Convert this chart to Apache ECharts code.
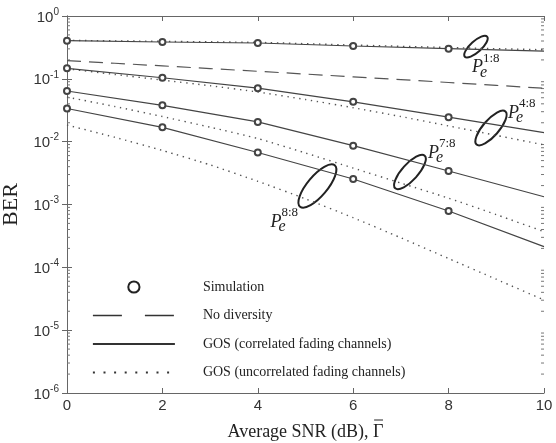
<!DOCTYPE html>
<html>
<head>
<meta charset="utf-8">
<script src="https://cdn.jsdelivr.net/npm/echarts@6.0.0/dist/echarts.min.js"></script>
<style>
  html, body { margin: 0; padding: 0; background: #fff; }
  #chart { width: 556px; height: 443px; }
</style>
</head>
<body>
<div id="chart"></div>
<script>
// average SNR (dB) sample points
var snrSim = [0, 2, 4, 6, 8];
var snrCurve = [0, 2, 4, 6, 8, 10];
var snrFine = [0, 1, 2, 3, 4, 5, 6, 7, 8, 9, 10];

// GOS, correlated fading channels (solid), at snrCurve
var gos18 = [0.405, 0.386, 0.372, 0.333, 0.302, 0.277];
var gos48 = [0.147, 0.104, 0.071, 0.043, 0.0245, 0.0139];
var gos78 = [0.064, 0.0379, 0.0206, 0.00863, 0.00341, 0.00133];
var gos88 = [0.0337, 0.0169, 0.00672, 0.00255, 0.000788, 0.000214];

// simulation circles, at snrSim
var sim18 = [0.405, 0.386, 0.372, 0.333, 0.302];
var sim48 = [0.147, 0.104, 0.071, 0.043, 0.0245];
var sim78 = [0.064, 0.0379, 0.0206, 0.00863, 0.00341];
var sim88 = [0.0337, 0.0169, 0.00672, 0.00255, 0.000788];

// GOS, uncorrelated fading channels (dotted)
var unc18 = [0.41, 0.395, 0.38, 0.345, 0.315, 0.29]; // snrCurve
var unc48 = [0.1445, 0.1175, 0.0955, 0.0776, 0.0617, 0.0468, 0.0347, 0.0251, 0.0178, 0.0126, 0.0089];
var unc78 = [0.0513, 0.0363, 0.0251, 0.0170, 0.0112, 0.0066, 0.0038, 0.00219, 0.00126, 0.00069, 0.00037];
var unc88 = [0.0184, 0.01175, 0.00724, 0.00427, 0.00234, 0.00123, 0.000617, 0.000295, 0.000138, 0.0000646, 0.0000302];

// no diversity (dashed), at snrFine
var noDiv = [0.1945, 0.177, 0.1607, 0.1455, 0.1318, 0.1191, 0.1076, 0.0973, 0.0875, 0.0787, 0.0708];

var xTicks = [0, 2, 4, 6, 8, 10];

// log minor ticks 2..9 in each decade
var minorTicks = [];
for (var d = -6; d < 0; d++) {
  for (var m = 2; m <= 9; m++) minorTicks.push(m * Math.pow(10, d));
}

var SOLID = 'GOS (correlated fading channels)';
var DOTTED = 'GOS (uncorrelated fading channels)';
var DASHED = 'No diversity';
var SIM = 'Simulation';
var XTITLE = 'Average SNR (dB), ';
var GAMMA = '\u0393';

function zip(xs, ys) {
  return ys.map(function (y, i) { return [xs[i], y]; });
}

var chart = echarts.init(document.getElementById('chart'));

var serif = '"Liberation Serif", "DejaVu Serif", serif';
var sans = '"Liberation Sans", Arial, sans-serif';

function solid(ys) {
  return {
    name: SOLID, type: 'line', data: zip(snrCurve, ys),
    symbol: 'none', silent: true, z: 3,
    itemStyle: { color: '#444' },
    lineStyle: { color: '#444', width: 1.2 }
  };
}
function dotted(xs, ys) {
  return {
    name: DOTTED, type: 'line', data: zip(xs, ys),
    symbol: 'none', silent: true, smooth: 0.2, z: 2,
    itemStyle: { color: '#555' },
    lineStyle: { color: '#555', width: 1.4, type: [1.4, 4.6] }
  };
}

var simData = [].concat(zip(snrSim, sim18), zip(snrSim, sim48), zip(snrSim, sim78), zip(snrSim, sim88));

var logLabel = {
  show: true,
  margin: 8,
  formatter: function (v) {
    var e = Math.round(Math.log(v) / Math.LN10);
    return '{b|10}{s|' + (e < 0 ? '-' + (-e) : e) + '}';
  },
  rich: {
    b: { fontSize: 15, fontFamily: sans, color: '#333', verticalAlign: 'bottom', lineHeight: 18 },
    s: { fontSize: 10, fontFamily: sans, color: '#333', verticalAlign: 'top', lineHeight: 12 }
  }
};

var frame = { show: true, lineStyle: { color: '#666', width: 1 } };
var tickIn = { show: true, inside: true, length: 5, lineStyle: { color: '#666' } };

var option = {
  animation: false,
  backgroundColor: '#fff',
  grid: { left: 67, right: 12, top: 16, bottom: 50, containLabel: false, outerBoundsMode: 'none' },
  xAxis: [{
    type: 'value', min: 0, max: 10, interval: 2, position: 'bottom',
    axisLine: frame, axisTick: tickIn, splitLine: { show: false },
    axisLabel: { fontSize: 15, fontFamily: sans, color: '#333', margin: 5,
      formatter: function (v) { return xTicks.indexOf(v) >= 0 ? String(v) : ''; } }
  }, {
    type: 'value', min: 0, max: 10, interval: 2, position: 'top',
    axisLine: frame, axisTick: tickIn, splitLine: { show: false }, axisLabel: { show: false }
  }],
  yAxis: [{
    type: 'log', logBase: 10, min: 1e-6, max: 1, interval: 1, position: 'left',
    axisLine: frame, axisTick: tickIn, splitLine: { show: false },
    axisLabel: logLabel,
    name: 'BER', nameLocation: 'middle', nameGap: 38,
    nameTextStyle: { fontSize: 22, fontFamily: serif, color: '#222' }
  }, {
    type: 'log', logBase: 10, min: 1e-6, max: 1, interval: 1, position: 'right',
    axisLine: frame, axisTick: tickIn, splitLine: { show: false }, axisLabel: { show: false }
  }],
  legend: {
    orient: 'vertical', left: 87, top: 275,
    itemWidth: 82, itemHeight: 14, itemGap: 14.5,
    selectedMode: false,
    textStyle: { fontSize: 14, fontFamily: serif, color: '#222', padding: [0, 0, 0, 23] },
    data: [
      { name: SIM, itemStyle: { color: '#222', borderColor: '#222', borderWidth: 1.8 } },
      { name: DASHED, itemStyle: { opacity: 0 }, lineStyle: { type: [29, 23], width: 1.6, color: '#333' } },
      { name: SOLID, itemStyle: { opacity: 0 }, lineStyle: { width: 1.8, color: '#333' } },
      { name: DOTTED, itemStyle: { opacity: 0 }, lineStyle: { type: [2, 8.6], width: 1.8, color: '#333' } }
    ]
  },
  series: [
    solid(gos18), solid(gos48), solid(gos78), solid(gos88),
    dotted(snrCurve, unc18), dotted(snrFine, unc48), dotted(snrFine, unc78), dotted(snrFine, unc88),
    {
      name: DASHED, type: 'line', data: zip(snrFine, noDiv),
      symbol: 'none', silent: true, z: 2,
      itemStyle: { color: '#555' },
      lineStyle: { color: '#555', width: 1.2, type: [14, 8] }
    },
    {
      name: SIM, type: 'line', data: simData,
      symbol: 'emptyCircle', symbolSize: 6, showSymbol: true, silent: true, z: 5,
      itemStyle: { color: '#444', borderWidth: 1.2 },
      lineStyle: { width: 0, opacity: 0 }
    },
    {
      // minor ticks of the log axis, on both sides of the frame
      type: 'custom', silent: true, z: 1,
      data: minorTicks.map(function (v) { return [0, v]; }),
      renderItem: function (params, api) {
        var l = api.coord([0, api.value(1)]);
        var r = api.coord([10, api.value(1)]);
        var st = { stroke: '#777', lineWidth: 1 };
        return {
          type: 'group', children: [
            { type: 'line', shape: { x1: l[0], y1: l[1], x2: l[0] + 3, y2: l[1] }, style: st },
            { type: 'line', shape: { x1: r[0] - 3, y1: r[1], x2: r[0], y2: r[1] }, style: st }
          ]
        };
      }
    }
  ]
};

chart.setOption(option);

// ellipses marking each curve family, with P_e^{k:8} labels
var notes = [
  { tag: '1:8', at: [8.574, 0.325], tilt: 42, a: 15, b: 5.5, dx: -4, dy: 26 },
  { tag: '4:8', at: [8.889, 0.0165], tilt: 49, a: 22, b: 8, dx: 17, dy: -10 },
  { tag: '7:8', at: [7.19, 0.00329], tilt: 48, a: 22, b: 8, dx: 18, dy: -14 },
  { tag: '8:8', at: [5.25, 0.00197], tilt: 50, a: 27, b: 10, dx: -47, dy: 41 }
];

function txt(x, y, s, font, align) {
  return {
    type: 'text', x: x, y: y, silent: true,
    style: { text: s, font: font, fill: '#222', align: align || 'left', verticalAlign: 'bottom',
      textAlign: align || 'left', textVerticalAlign: 'bottom' }
  };
}

var els = [];
notes.forEach(function (n) {
  var p = chart.convertToPixel({ xAxisIndex: 0, yAxisIndex: 0 }, n.at);
  els.push({
    type: 'ellipse', x: p[0], y: p[1], rotation: n.tilt * Math.PI / 180, silent: true,
    shape: { cx: 0, cy: 0, rx: n.a, ry: n.b },
    style: { fill: 'none', stroke: '#222', lineWidth: 2 }
  });
  var px = p[0] + n.dx, base = p[1] + n.dy;
  els.push(txt(px, base + 4, 'P', 'italic 18px ' + serif));
  els.push(txt(px + 8, base + 8, 'e', 'italic 16px ' + serif));
  els.push(txt(px + 11, base - 8, n.tag, '13px ' + serif));
});

// x axis title with an overbar on Gamma
var titleFont = '18px ' + serif;
var ctx = document.createElement('canvas').getContext('2d');
ctx.font = titleFont;
var wAll = ctx.measureText(XTITLE + GAMMA).width;
var wG = ctx.measureText(GAMMA).width;
var mid = chart.convertToPixel({ xAxisIndex: 0 }, 5);
var titleBottom = 441;
els.push(txt(mid, titleBottom, XTITLE + GAMMA, titleFont, 'center'));
var gRight = mid + wAll / 2;
els.push({
  type: 'line', silent: true,
  shape: { x1: gRight - wG + 1, y1: titleBottom - 21, x2: gRight - 0.5, y2: titleBottom - 21 },
  style: { stroke: '#222', lineWidth: 1 }
});

chart.setOption({ graphic: { elements: els } });

window.addEventListener('resize', chart.resize);
</script>
</body>
</html>
